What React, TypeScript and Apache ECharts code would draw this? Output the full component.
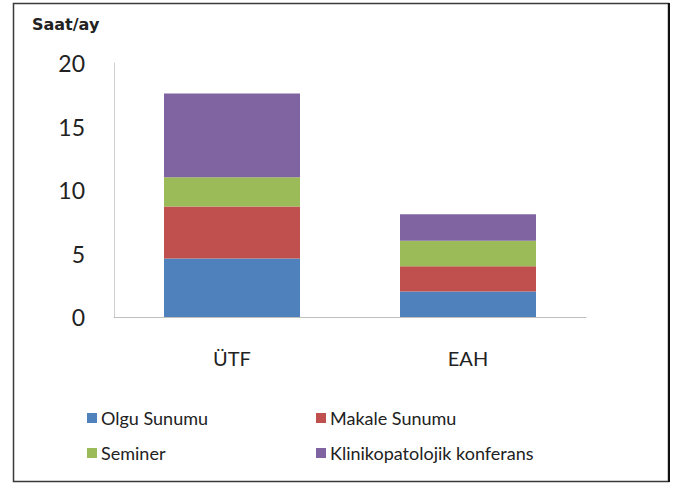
import React, { useEffect, useRef } from "react";
import * as echarts from "echarts";

const categories = ["ÜTF", "EAH"];
const seriesNames = ["Olgu Sunumu", "Makale Sunumu", "Seminer", "Klinikopatolojik konferans"];
const olguSunumu = [4.6, 2.0];
const makaleSunumu = [4.1, 2.0];
const seminer = [2.3, 2.0];
const klinikopatolojik = [6.6, 2.1];
const yTicks = [0, 5, 10, 15, 20];
const yAxisTitle = "Saat/ay";

const colors = ["#4F81BD", "#C0504D", "#9BBB59", "#8064A2"];
const FONT = "Lato, 'Open Sans', sans-serif";

export default function App() {
  const ref = useRef<HTMLDivElement>(null);
  useEffect(() => {
    if (!ref.current) return;
    const chart = echarts.init(ref.current, undefined, { renderer: "svg" });
    const values = [olguSunumu, makaleSunumu, seminer, klinikopatolojik];
    const legendPos = [
      { left: 82, top: 404 },
      { left: 311, top: 404 },
      { left: 82, top: 439 },
      { left: 311, top: 439 },
    ];
    chart.setOption({
      animation: false,
      backgroundColor: "#ffffff",
      color: colors,
      grid: { left: 114, right: 97, top: 63, bottom: 167, containLabel: false },
      graphic: [
        {
          type: "rect",
          shape: { x: 13.5, y: 3.5, width: 655, height: 478 },
          style: { fill: "none", stroke: "#3a3a3a", lineWidth: 1.5 },
          silent: true,
        },
        {
          type: "line",
          shape: { x1: 669, y1: 3, x2: 669, y2: 482 },
          style: { stroke: "#111", lineWidth: 2 },
          silent: true,
        },
        {
          type: "text",
          left: 32,
          top: 16,
          style: { text: yAxisTitle, font: `bold 16px 'DejaVu Sans', sans-serif`, fill: "#222" },
        },
      ],
      legend: seriesNames.map((name, i) => ({
        show: true,
        data: [name],
        left: legendPos[i].left,
        top: legendPos[i].top,
        itemWidth: 10,
        itemHeight: 10,
        itemGap: 0,
        icon: "rect",
        selectedMode: false,
        textStyle: { fontFamily: FONT, fontSize: 18, color: "#222", padding: [0, 0, 0, -1] },
      })),
      xAxis: {
        type: "category",
        data: categories,
        axisLine: { show: true, lineStyle: { color: "#BFBFBF", width: 1 } },
        axisTick: { show: false },
        axisLabel: { fontFamily: FONT, fontSize: 20, color: "#222", margin: 31 },
      },
      yAxis: {
        type: "value",
        min: yTicks[0],
        max: yTicks[yTicks.length - 1],
        interval: 5,
        axisLine: { show: true, lineStyle: { color: "#D0D0D0", width: 1 } },
        axisTick: { show: false },
        splitLine: { show: false },
        axisLabel: { fontFamily: FONT, fontSize: 23, color: "#222", margin: 29 },
      },
      series: seriesNames.map((name, i) => ({
        name,
        type: "bar",
        stack: "total",
        barWidth: 136,
        data: values[i],
        itemStyle: { color: colors[i] },
      })),
    });
    return () => chart.dispose();
  }, []);
  return (
    <div
      ref={ref}
      style={{ position: "fixed", left: 0, top: 0, width: 683, height: 484 }}
    />
  );
}
